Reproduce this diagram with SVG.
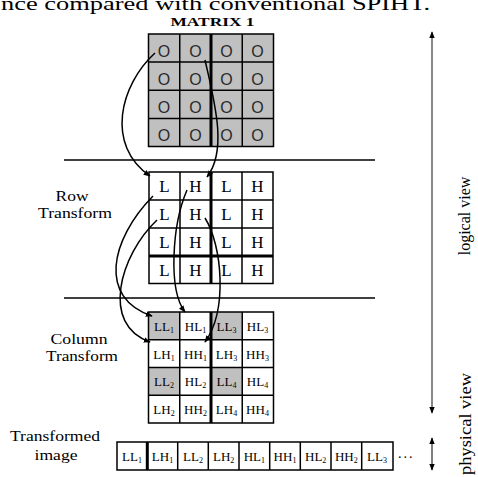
<svg xmlns="http://www.w3.org/2000/svg" width="478" height="477" viewBox="0 0 478 477">
<defs>
<style>
.t{font-family:"Liberation Serif","Times New Roman",serif;fill:#000}
.lbl{font-size:15px;text-anchor:middle}
.cell{font-size:17px;text-anchor:middle}
.sm{font-size:13px;text-anchor:middle}
.sub{font-size:8px}
.o{font-family:"Liberation Sans",Arial,sans-serif;font-size:16px;text-anchor:middle;fill:#2a2a2a}
.grid{fill:none;stroke:#000;stroke-width:1.5}
.thick{fill:none;stroke:#000;stroke-width:3}
.shade{fill:#c0c0c0}
.conn{fill:none;stroke:#000;stroke-width:1.5}
.rule{stroke:#000;stroke-width:1.5}
</style>
<marker id="ah" viewBox="0 0 10 10" refX="9" refY="5" markerWidth="7" markerHeight="7" orient="auto" markerUnits="userSpaceOnUse"><path d="M0,1 L10,5 L0,9 z" fill="#000"/></marker>
<marker id="vh" viewBox="0 0 10 10" refX="9" refY="5" markerWidth="7" markerHeight="7" orient="auto-start-reverse" markerUnits="userSpaceOnUse"><path d="M0,1 L10,5 L0,9 z" fill="#000"/></marker>
</defs>
<rect width="478" height="477" fill="#fff"/>

<text class="t" x="1" y="10" font-size="18" textLength="429" lengthAdjust="spacingAndGlyphs">nce compared with conventional SPIHT.</text>

<g id="matrix1">
<text class="t" x="212.5" y="26" font-size="13" font-weight="bold" text-anchor="middle" textLength="84" lengthAdjust="spacingAndGlyphs">MATRIX 1</text>
<rect class="shade" x="148.5" y="34" width="125" height="112.5"/>
<path class="grid" d="M148.5,34h125v112.5h-125z M179.75,34v112.5 M242.25,34v112.5 M148.5,62.1h125 M148.5,90.25h125 M148.5,118.4h125"/>
<path class="thick" d="M211,34v112.5"/>
<g>
<text class="o" x="164" y="56.5">O</text><text class="o" x="195.5" y="56.5">O</text><text class="o" x="226.5" y="56.5">O</text><text class="o" x="257.5" y="56.5">O</text>
<text class="o" x="164" y="84.5">O</text><text class="o" x="195.5" y="84.5">O</text><text class="o" x="226.5" y="84.5">O</text><text class="o" x="257.5" y="84.5">O</text>
<text class="o" x="164" y="112.5">O</text><text class="o" x="195.5" y="112.5">O</text><text class="o" x="226.5" y="112.5">O</text><text class="o" x="257.5" y="112.5">O</text>
<text class="o" x="164" y="141">O</text><text class="o" x="195.5" y="141">O</text><text class="o" x="226.5" y="141">O</text><text class="o" x="257.5" y="141">O</text>
</g>
</g>

<g id="dividers">
<line class="rule" x1="64" y1="160" x2="375" y2="160"/>
<line class="rule" x1="64" y1="298" x2="375" y2="298"/>
</g>

<g id="row-label">
<text class="t lbl" x="72" y="201" textLength="33" lengthAdjust="spacingAndGlyphs">Row</text>
<text class="t lbl" x="75" y="218" textLength="74" lengthAdjust="spacingAndGlyphs">Transform</text>
</g>

<g id="row-transform">
<rect x="149" y="172" width="124" height="111.5" fill="#fff"/>
<path class="grid" d="M149,172h124v111.5h-124z M180,172v111.5 M242,172v111.5 M149,200h124 M149,228h124"/>
<path class="thick" d="M211,172v111.5 M149,256h124"/>
<text class="t cell" x="164.5" y="192">L</text><text class="t cell" x="195.5" y="192">H</text><text class="t cell" x="226.5" y="192">L</text><text class="t cell" x="257.5" y="192">H</text>
<text class="t cell" x="164.5" y="220">L</text><text class="t cell" x="195.5" y="220">H</text><text class="t cell" x="226.5" y="220">L</text><text class="t cell" x="257.5" y="220">H</text>
<text class="t cell" x="164.5" y="248">L</text><text class="t cell" x="195.5" y="248">H</text><text class="t cell" x="226.5" y="248">L</text><text class="t cell" x="257.5" y="248">H</text>
<text class="t cell" x="164.5" y="276">L</text><text class="t cell" x="195.5" y="276">H</text><text class="t cell" x="226.5" y="276">L</text><text class="t cell" x="257.5" y="276">H</text>
</g>

<g id="column-label">
<text class="t lbl" x="79" y="344" textLength="57" lengthAdjust="spacingAndGlyphs">Column</text>
<text class="t lbl" x="82" y="361" textLength="72" lengthAdjust="spacingAndGlyphs">Transform</text>
</g>

<g id="column-transform">
<rect x="148.5" y="312" width="125" height="111" fill="#fff"/>
<rect class="shade" x="148.5" y="312" width="31.25" height="27.75"/>
<rect class="shade" x="211" y="312" width="31.25" height="27.75"/>
<rect class="shade" x="148.5" y="367.5" width="31.25" height="27.75"/>
<rect class="shade" x="211" y="367.5" width="31.25" height="27.75"/>
<path class="grid" d="M148.5,312h125v111h-125z M179.75,312v111 M242.25,312v111 M148.5,339.75h125 M148.5,367.5h125 M148.5,395.25h125"/>
<path class="thick" d="M211,312v111"/>
<text class="t sm" x="164" y="331">LL<tspan class="sub" dy="2">1</tspan></text>
<text class="t sm" x="195.5" y="331">HL<tspan class="sub" dy="2">1</tspan></text>
<text class="t sm" x="226.5" y="331">LL<tspan class="sub" dy="2">3</tspan></text>
<text class="t sm" x="257.5" y="331">HL<tspan class="sub" dy="2">3</tspan></text>
<text class="t sm" x="164" y="358.5">LH<tspan class="sub" dy="2">1</tspan></text>
<text class="t sm" x="195.5" y="358.5">HH<tspan class="sub" dy="2">1</tspan></text>
<text class="t sm" x="226.5" y="358.5" fill="#555">LH<tspan class="sub" dy="2">3</tspan></text>
<text class="t sm" x="257.5" y="358.5">HH<tspan class="sub" dy="2">3</tspan></text>
<text class="t sm" x="164" y="386">LL<tspan class="sub" dy="2">2</tspan></text>
<text class="t sm" x="195.5" y="386">HL<tspan class="sub" dy="2">2</tspan></text>
<text class="t sm" x="226.5" y="386">LL<tspan class="sub" dy="2">4</tspan></text>
<text class="t sm" x="257.5" y="386">HL<tspan class="sub" dy="2">4</tspan></text>
<text class="t sm" x="164" y="414">LH<tspan class="sub" dy="2">2</tspan></text>
<text class="t sm" x="195.5" y="414">HH<tspan class="sub" dy="2">2</tspan></text>
<text class="t sm" x="226.5" y="414">LH<tspan class="sub" dy="2">4</tspan></text>
<text class="t sm" x="257.5" y="414">HH<tspan class="sub" dy="2">4</tspan></text>
</g>

<g id="image-label">
<text class="t lbl" x="55" y="441" textLength="90" lengthAdjust="spacingAndGlyphs">Transformed</text>
<text class="t lbl" x="56" y="460" textLength="43" lengthAdjust="spacingAndGlyphs">image</text>
</g>

<g id="transformed-image">
<path class="grid" d="M117,442h276v28h-276z M177.7,442v28 M208.3,442v28 M239,442v28 M269.7,442v28 M300.3,442v28 M331,442v28 M361.7,442v28"/>
<path class="thick" d="M147.3,442v28"/>
<text class="t sm" x="132" y="461">LL<tspan class="sub" dy="2">1</tspan></text>
<text class="t sm" x="162.5" y="461">LH<tspan class="sub" dy="2">1</tspan></text>
<text class="t sm" x="193" y="461">LL<tspan class="sub" dy="2">2</tspan></text>
<text class="t sm" x="223.7" y="461">LH<tspan class="sub" dy="2">2</tspan></text>
<text class="t sm" x="254.3" y="461">HL<tspan class="sub" dy="2">1</tspan></text>
<text class="t sm" x="285" y="461">HH<tspan class="sub" dy="2">1</tspan></text>
<text class="t sm" x="315.7" y="461">HL<tspan class="sub" dy="2">2</tspan></text>
<text class="t sm" x="346.3" y="461">HH<tspan class="sub" dy="2">2</tspan></text>
<text class="t sm" x="377" y="461">LL<tspan class="sub" dy="2">3</tspan></text>
<text class="t" x="398" y="458" font-size="14" letter-spacing="2" fill="#333">...</text>
</g>

<g id="connectors">
<path class="conn" marker-end="url(#ah)" d="M155,53 C120,85 105,145 150,176"/>
<path class="conn" marker-end="url(#ah)" d="M205,60 C214,100 228,150 207,177"/>
<path class="conn" marker-end="url(#ah)" d="M153,196 C110,240 98,298 152,316"/>
<path class="conn" marker-end="url(#ah)" d="M157,220 C120,255 100,325 150,342"/>
<path class="conn" marker-end="url(#ah)" d="M187,190 C172,225 168,290 185,312"/>
<path class="conn" marker-end="url(#ah)" d="M205,218 C222,245 228,310 205,342"/>
</g>

<g id="views">
<line x1="432" y1="32" x2="432" y2="413" stroke="#888" stroke-width="2" marker-start="url(#vh)" marker-end="url(#vh)"/>
<line x1="432" y1="438" x2="432" y2="470" stroke="#555" stroke-width="1.5" marker-start="url(#vh)" marker-end="url(#vh)"/>
<text class="t" transform="translate(470,216) rotate(-90)" font-size="16" text-anchor="middle" fill="#222">logical view</text>
<text class="t" transform="translate(471,373) rotate(-90)" font-size="17" text-anchor="end" fill="#222" textLength="102" lengthAdjust="spacingAndGlyphs">physical view</text>
</g>
</svg>
